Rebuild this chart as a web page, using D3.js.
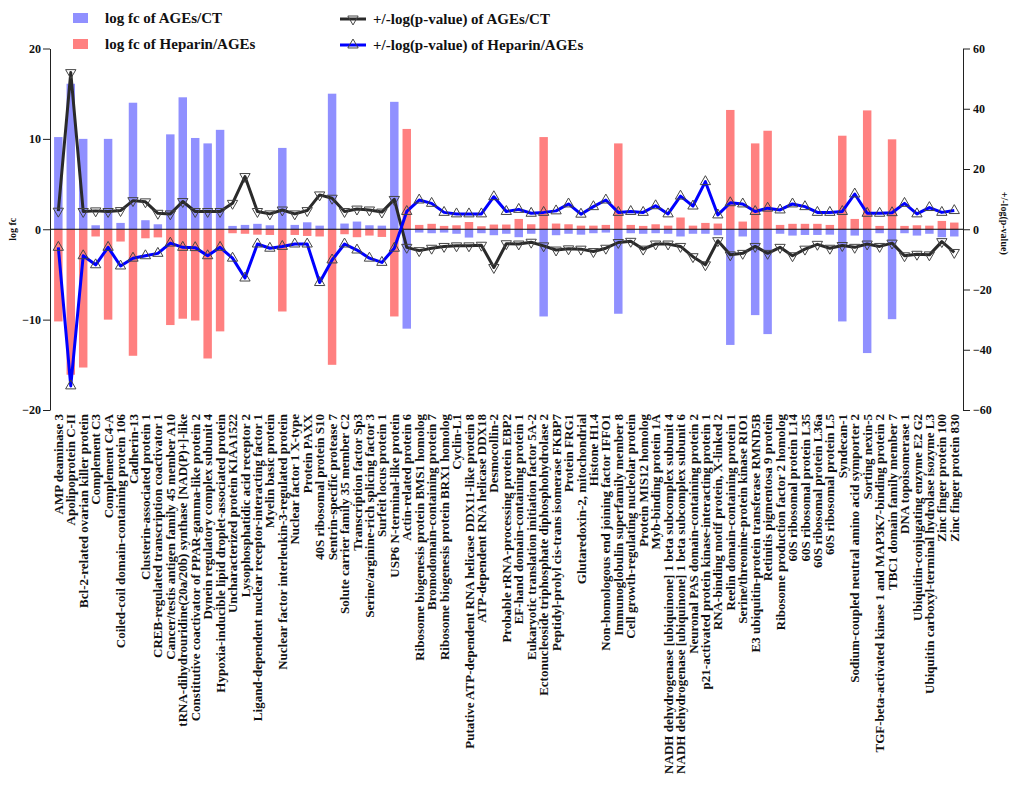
<!DOCTYPE html>
<html>
<head>
<meta charset="utf-8">
<script src="https://cdn.jsdelivr.net/npm/d3@7"></script>
<style>
  body { margin: 0; background: #fff; }
  svg text { font-family: "Liberation Serif", "Times New Roman", serif; font-weight: bold; fill: #111; }
</style>
</head>
<body>
<svg id="chart" width="1010" height="790"></svg>
<script>
const proteins = [
  "AMP deaminase 3", "Apolipoprotein C-II", "Bcl-2-related ovarian killer protein", "Complement C3",
  "Complement C4-A", "Coiled-coil domain-containing protein 106", "Cadherin-13", "Clusterin-associated protein 1",
  "CREB-regulated transcription coactivator 1", "Cancer/testis antigen family 45 member A10",
  "tRNA-dihydrouridine(20a/20b) synthase [NAD(P)+]-like", "Constitutive coactivator of PPAR-gamma-like protein 2",
  "Dynein regulatory complex subunit 4", "Hypoxia-inducible lipid droplet-associated protein",
  "Uncharacterized protein KIAA1522", "Lysophosphatidic acid receptor 2",
  "Ligand-dependent nuclear receptor-interacting factor 1", "Myelin basic protein",
  "Nuclear factor interleukin-3-regulated protein", "Nuclear factor 1 X-type", "Protein PAXX",
  "40S ribosomal protein S10", "Sentrin-specific protease 7", "Solute carrier family 35 member C2",
  "Transcription factor Sp3", "Serine/arginine-rich splicing factor 3", "Surfeit locus protein 1",
  "USP6 N-terminal-like protein", "Actin-related protein 6", "Ribosome biogenesis protein BMS1 homolog",
  "Bromodomain-containing protein 7", "Ribosome biogenesis protein BRX1 homolog", "Cyclin-L1",
  "Putative ATP-dependent RNA helicase DDX11-like protein 8", "ATP-dependent RNA helicase DDX18",
  "Desmocollin-2", "Probable rRNA-processing protein EBP2", "EF-hand domain-containing protein 1",
  "Eukaryotic translation initiation factor 5A-2", "Ectonucleoside triphosphate diphosphohydrolase 2",
  "Peptidyl-prolyl cis-trans isomerase FKBP7", "Protein FRG1", "Glutaredoxin-2, mitochondrial",
  "Histone H1.4", "Non-homologous end joining factor IFFO1", "Immunoglobulin superfamily member 8",
  "Cell growth-regulating nucleolar protein", "Protein MIS12 homolog", "Myb-binding protein 1A",
  "NADH dehydrogenase [ubiquinone] 1 beta subcomplex subunit 4",
  "NADH dehydrogenase [ubiquinone] 1 beta subcomplex subunit 6",
  "Neuronal PAS domain-containing protein 2", "p21-activated protein kinase-interacting protein 1",
  "RNA-binding motif protein, X-linked 2", "Reelin domain-containing protein 1",
  "Serine/threonine-protein kinase RIO1", "E3 ubiquitin-protein transferase RMND5B",
  "Retinitis pigmentosa 9 protein", "Ribosome production factor 2 homolog", "60S ribosomal protein L14",
  "60S ribosomal protein L35", "60S ribosomal protein L36a", "60S ribosomal protein L5", "Syndecan-1",
  "Sodium-coupled neutral amino acid symporter 2", "Sorting nexin-5",
  "TGF-beta-activated kinase 1 and MAP3K7-binding protein 2", "TBC1 domain family member 7",
  "DNA topoisomerase 1", "Ubiquitin-conjugating enzyme E2 G2",
  "Ubiquitin carboxyl-terminal hydrolase isozyme L3", "Zinc finger protein 100", "Zinc finger protein 830"
];

// log fc (left axis)
const fcAGEs = [
  10.2, 16.1, 10.0, 0.44, 10.0, 0.7, 14.0, 1.0, 0.55, 10.5, 14.6, 10.1, 9.5, 11.0, 0.37, 0.48, 0.6, 0.44,
  9.0, 0.48, 0.77, 0.4, 15.0, 0.63, 0.85, 0.44, 0.4, 14.1, -11.0, -0.37, -0.44, -0.37, -0.5, -0.92, -0.44,
  -0.66, -0.5, -0.88, -0.5, -9.65, -0.66, -0.5, -0.6, -0.44, -0.37, -9.35, -0.44, -0.5, -0.44, -0.5, -0.8,
  -0.5, -0.5, -0.66, -12.8, -0.8, -9.5, -11.6, -0.5, -0.7, -0.63, -0.63, -0.6, -10.2, -0.7, -13.7, -0.44,
  -9.95, -0.44, -0.7, -0.5, -0.88, -0.8
];
const fcHeparin = [
  -10.2, -16.1, -15.3, -0.8, -10.0, -1.36, -14.0, -1.0, -0.9, -10.6, -9.9, -10.1, -14.3, -11.3, -0.44, -0.5,
  -0.6, -0.63, -9.1, -0.63, -0.74, -0.8, -15.0, -0.55, -0.88, -0.7, -0.85, -9.65, 11.1, 0.48, 0.6, 0.37,
  0.44, 0.8, 0.33, 0.52, 0.52, 1.14, 0.55, 10.2, 0.63, 0.55, 0.4, 0.4, 0.48, 9.5, 0.48, 0.37, 0.55, 0.4,
  1.3, 0.4, 0.7, 0.63, 13.2, 0.85, 9.5, 10.9, 0.48, 0.6, 0.6, 0.6, 0.48, 10.35, 1.14, 13.15, 0.37, 9.95,
  0.37, 0.44, 0.4, 0.92, 0.74
];

// +/-log(p-value) (right axis)
const pAGEs = [
  6.0, 52, 5.9, 6.1, 5.9, 6.2, 9.5, 9.1, 5.3, 5.1, 9.2, 5.9, 5.9, 5.9, 8.6, 17.5, 5.9, 5.1, 6.4, 5.1, 6.2,
  11.4, 10.3, 5.9, 6.7, 6.4, 5.7, 9.9, -6.0, -7.1, -6.3, -5.7, -5.5, -5.5, -5.3, -12.7, -4.8, -4.9, -4.3,
  -5.5, -6.9, -6.5, -6.6, -7.4, -6.3, -4.4, -4.0, -6.6, -4.9, -4.9, -5.7, -9.1, -11.8, -3.8, -8.5, -8.0,
  -5.7, -8.0, -6.0, -8.8, -6.6, -5.0, -6.3, -5.4, -6.0, -4.9, -5.7, -4.6, -8.8, -8.3, -8.5, -4.1, -7.7
];
const pHeparin = [
  -6.0, -52, -8.8, -11.8, -6.0, -12.2, -9.6, -8.8, -8.0, -4.6, -6.0, -6.1, -8.8, -6.0, -9.6, -16.2, -4.9,
  -6.3, -5.7, -4.9, -4.9, -17.7, -10.2, -4.9, -6.9, -9.6, -11.0, -6.3, 5.9, 9.7, 8.6, 5.6, 5.1, 5.1, 5.1,
  10.8, 5.9, 6.6, 5.3, 5.6, 6.1, 8.4, 5.0, 7.5, 9.7, 5.6, 5.9, 5.6, 7.8, 5.1, 11.0, 7.7, 15.8, 4.75, 8.8,
  8.4, 5.9, 7.0, 6.4, 8.4, 7.5, 5.6, 5.6, 5.9, 11.7, 5.3, 5.3, 5.5, 8.6, 5.1, 7.2, 5.6, 6.2
];

const fcTicks = [-20, -10, 0, 10, 20];
const pTicks = [-60, -40, -20, 0, 20, 40, 60];

let colorBlueBar = '#9090ff';
let colorRedBar = '#ff8080';
let colorBlackLine = '#2a2a2a';
let colorBlueLine = '#0000ff';
let colorMarker = '#444';

let svg = d3.select('#chart');
let plotLeft = 50, plotRight = 963, plotTop = 48.5, plotBottom = 410;

let x = d3.scaleBand().domain(proteins).range([52.1, 960.5]);
let barW = x.bandwidth() * 0.68;
let cx = d => x(d) + x.bandwidth() / 2;
let yL = d3.scaleLinear().domain([-20, 20]).range([plotBottom, plotTop]);
let yR = d3.scaleLinear().domain([-60, 60]).range([plotBottom, plotTop]);

// bars
function bars(values, color) {
  svg.append('g').selectAll('rect')
    .data(values)
    .join('rect')
    .attr('x', (d, i) => cx(proteins[i]) - barW / 2)
    .attr('width', barW)
    .attr('y', d => yL(Math.max(0, d)))
    .attr('height', d => Math.abs(yL(d) - yL(0)))
    .attr('fill', color);
}
bars(fcAGEs, colorBlueBar);
bars(fcHeparin, colorRedBar);

// zero line
svg.append('line')
  .attr('x1', plotLeft).attr('x2', plotRight)
  .attr('y1', yL(0)).attr('y2', yL(0))
  .attr('stroke', '#000').attr('stroke-width', 1);

// p-value lines
let tri = d3.symbol().type(d3.symbolTriangle).size(46);
function series(values, color, down) {
  let line = d3.line().x((d, i) => cx(proteins[i])).y(d => yR(d));
  svg.append('path')
    .attr('d', line(values))
    .attr('fill', 'none')
    .attr('stroke', color)
    .attr('stroke-width', 3)
    .attr('stroke-linejoin', 'round');
  svg.append('g').selectAll('path')
    .data(values)
    .join('path')
    .attr('d', tri)
    .attr('transform', (d, i) => `translate(${cx(proteins[i])},${yR(d)}) rotate(${down ? 180 : 0})`)
    .attr('fill', 'none')
    .attr('stroke', colorMarker)
    .attr('stroke-width', 1);
}
series(pAGEs, colorBlackLine, true);
series(pHeparin, colorBlueLine, false);

// axes
let axL = svg.append('g')
  .attr('transform', `translate(${plotLeft},0)`)
  .call(d3.axisLeft(yL).tickValues(fcTicks).tickSize(7).tickSizeOuter(0).tickPadding(2));
let axR = svg.append('g')
  .attr('transform', `translate(${plotRight},0)`)
  .call(d3.axisRight(yR).tickValues(pTicks).tickSize(7).tickSizeOuter(0).tickPadding(3));
[axL, axR].forEach(a => {
  a.selectAll('text').attr('font-size', 12).attr('font-family', null);
  a.select('.domain').attr('stroke', '#222');
  a.selectAll('.tick line').attr('stroke', '#222');
});

svg.append('text')
  .attr('transform', `translate(16,${yL(0)}) rotate(-90)`)
  .attr('text-anchor', 'middle')
  .attr('font-size', 10)
  .text('log fc');
svg.append('text')
  .attr('transform', `translate(1001,${yL(0) - 6}) rotate(90)`)
  .attr('text-anchor', 'middle')
  .attr('font-size', 10)
  .text('+/-log(p-value)');

// category labels
svg.append('g').selectAll('text')
  .data(proteins)
  .join('text')
  .attr('transform', d => `translate(${cx(d)},414) rotate(-90)`)
  .attr('text-anchor', 'end')
  .attr('dy', '0.35em')
  .attr('font-size', 13)
  .text(d => d);

// legend
let legend = svg.append('g');
legend.append('rect').attr('x', 73).attr('y', 13).attr('width', 15).attr('height', 10).attr('fill', colorBlueBar);
legend.append('rect').attr('x', 73).attr('y', 39).attr('width', 15).attr('height', 10).attr('fill', colorRedBar);
legend.append('text').attr('x', 105).attr('y', 23).attr('font-size', 15).text('log fc of AGEs/CT');
legend.append('text').attr('x', 105).attr('y', 49).attr('font-size', 15).text('log fc of Heparin/AGEs');

function lineKey(y, color, down, label) {
  legend.append('line').attr('x1', 340).attr('x2', 366).attr('y1', y).attr('y2', y)
    .attr('stroke', color).attr('stroke-width', 3);
  legend.append('path').attr('d', tri)
    .attr('transform', `translate(353,${y}) rotate(${down ? 180 : 0})`)
    .attr('fill', 'none').attr('stroke', colorMarker);
  legend.append('text').attr('x', 373).attr('y', y + 5).attr('font-size', 15).text(label);
}
lineKey(19, colorBlackLine, true, '+/-log(p-value) of AGEs/CT');
lineKey(45, colorBlueLine, false, '+/-log(p-value) of Heparin/AGEs');
</script>
</body>
</html>
